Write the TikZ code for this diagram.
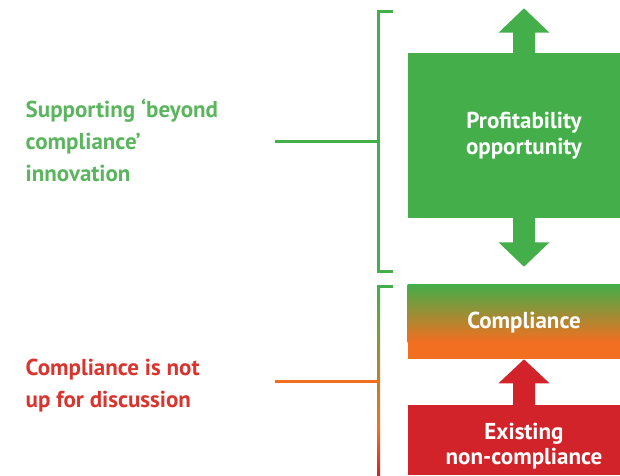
\documentclass[tikz,border=0pt]{standalone}
\usepackage{fontspec}
\setmainfont{PT Sans}
\definecolor{gbox}{HTML}{43AE4A}
\definecolor{gtext}{HTML}{5AB55E}
\definecolor{orng}{HTML}{F26F21}
\definecolor{rbox}{HTML}{D2232A}
\definecolor{rtext}{HTML}{D9352E}
\begin{document}
\begin{tikzpicture}[x=1pt,y=-1pt,
  boxtext/.style={text=white,font=\bfseries\fontsize{23}{25.5}\selectfont,align=center,inner sep=0pt},
  sidetext/.style={font=\bfseries\fontsize{23}{32}\selectfont,align=left,anchor=west,inner sep=0pt},
  brk/.style={line width=3pt}]
\useasboundingbox (0,0) rectangle (620,475);
% boxes
\fill[gbox] (407.5,53.3) rectangle (620,217.7);
\shade[top color=gbox,bottom color=orng] (407.5,284) rectangle (620,342);
\fill[orng] (407.5,341.5) rectangle (620,359.3);
\fill[rbox] (407.5,405) rectangle (620,475);
% arrows
\fill[gbox] (513,53.6) -- (513,32.7) -- (498.5,32.7) -- (524,8.3) -- (549.5,32.7) -- (535,32.7) -- (535,53.6) -- cycle;
\fill[gbox] (513,217.4) -- (513,242.3) -- (498.5,242.3) -- (524,266.7) -- (549.5,242.3) -- (535,242.3) -- (535,217.4) -- cycle;
\fill[rbox] (513,405.3) -- (513,383.3) -- (498.5,383.3) -- (524,359.3) -- (549.5,383.3) -- (535,383.3) -- (535,405.3) -- cycle;
% box texts
\node[boxtext] (profit) at (524,135.5) {Profitability\\opportunity};
\node[boxtext] (compl) at (524,323) {Compliance};
\node[boxtext] (exist) at (524,446) {Existing\\non-compliance};
% side texts
\node[sidetext,text=gtext] (beyond) at (25.5,140) {Supporting ‘beyond\\compliance’\\innovation};
\node[sidetext,text=rtext] (notup) at (25.5,385.5) {Compliance is not\\up for discussion};
% brackets
\coordinate (t1) at (275,141);
\coordinate (b1) at (378.5,141);
\draw[brk,gbox] (392.7,11.5) -- (378.5,11.5) -- (378.5,271.5) -- (392.7,271.5);
\draw[brk,gbox] (t1) -- (b1);
\shade[top color=gbox,bottom color=orng] (377,285) rectangle (380,430);
\shade[top color=orng,bottom color=rbox] (377,429.5) rectangle (380,475);
\fill[gbox] (377,285) rectangle (392.7,288);
\coordinate (t2) at (275,381.7);
\coordinate (b2) at (378.5,381.7);
\draw[brk,orng] (t2) -- (b2);
\end{tikzpicture}
\end{document}
